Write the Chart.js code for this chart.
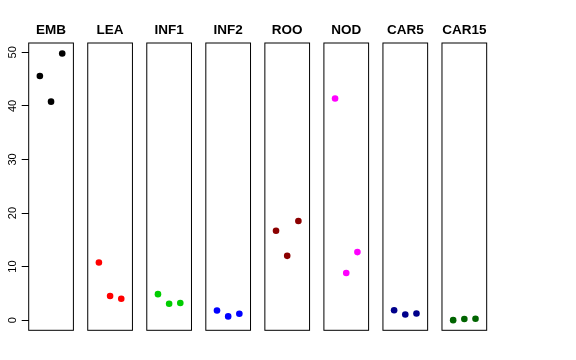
<!DOCTYPE html>
<html>
<head>
<meta charset="utf-8">
<script src="https://cdn.jsdelivr.net/npm/chart.js@4.4.1/dist/chart.umd.min.js"></script>
<style>
  body { margin: 0; background: #ffffff; }
  #wrap { position: relative; width: 576px; height: 360px; }
  #wrap canvas { position: absolute; left: 0; top: 0; }
</style>
</head>
<body>
<div id="wrap"></div>
<script>
const panelNames = ['EMB', 'LEA', 'INF1', 'INF2', 'ROO', 'NOD', 'CAR5', 'CAR15'];
const xPositions = [1, 2, 3];
const embValues = [45.6, 40.8, 49.8];
const leaValues = [10.75, 4.5, 4.0];
const inf1Values = [4.85, 3.05, 3.2];
const inf2Values = [1.8, 0.7, 1.2];
const rooValues = [16.7, 12.0, 18.5];
const nodValues = [41.4, 8.8, 12.7];
const car5Values = [1.85, 1.05, 1.25];
const car15Values = [0.0, 0.2, 0.25];
const yTicks = [0, 10, 20, 30, 40, 50];
const panelColors = ['#000000', '#ff0000', '#00cd00', '#0000ff', '#8b0000', '#ff00ff', '#00008b', '#006400'];

const allValues = [embValues, leaValues, inf1Values, inf2Values, rooValues, nodValues, car5Values, car15Values];

const W = 576, H = 360;
const firstLeft = 28.7;
const pitch = 59.04;
const boxW = 44.7;
const boxTop = 43;
const boxBottom = 330.3;

// frame + bold title for each panel, R style
const boxPlugin = {
    id: 'panelBox',
    afterDraw(chart, args, opts) {
        const a = chart.chartArea;
        const ctx = chart.ctx;
        ctx.save();
        ctx.strokeStyle = '#000000';
        ctx.lineWidth = 1;
        ctx.strokeRect(a.left, a.top, a.right - a.left, a.bottom - a.top);
        ctx.fillStyle = '#000000';
        ctx.font = 'bold 13.5px "Liberation Sans", Arial, sans-serif';
        ctx.textAlign = 'center';
        ctx.textBaseline = 'alphabetic';
        ctx.fillText(opts.title, (a.left + a.right) / 2, 34.2);
        ctx.restore();
    }
};

const wrap = document.getElementById('wrap');

panelNames.forEach((name, i) => {
    const canvas = document.createElement('canvas');
    canvas.width = W;
    canvas.height = H;
    canvas.style.width = W + 'px';
    canvas.style.height = H + 'px';
    wrap.appendChild(canvas);

    const boxLeft = firstLeft + i * pitch;
    const first = i === 0;

    new Chart(canvas, {
        type: 'scatter',
        data: {
            datasets: [{
                data: xPositions.map((x, j) => ({ x: x, y: allValues[i][j] })),
                backgroundColor: panelColors[i],
                borderWidth: 0,
                pointRadius: 3.3,
                pointHoverRadius: 3.3
            }]
        },
        options: {
            responsive: false,
            animation: false,
            events: [],
            layout: {
                padding: {
                    left: first ? 0 : boxLeft,
                    right: W - boxLeft - boxW,
                    top: boxTop,
                    bottom: H - boxBottom
                }
            },
            plugins: {
                legend: { display: false },
                tooltip: { enabled: false },
                title: { display: false },
                panelBox: { title: name }
            },
            scales: {
                x: {
                    type: 'linear',
                    min: 0,
                    max: 4,
                    display: false
                },
                y: {
                    type: 'linear',
                    min: -1.9,
                    max: 51.75,
                    display: first,
                    position: 'left',
                    afterBuildTicks: s => { s.ticks = yTicks.map(v => ({ value: v })); },
                    afterFit: s => { if (first) s.width = firstLeft; },
                    border: { display: false },
                    grid: {
                        drawOnChartArea: false,
                        drawTicks: true,
                        tickLength: 7,
                        color: '#000000',
                        lineWidth: 1
                    },
                    ticks: {
                        minRotation: 90,
                        maxRotation: 90,
                        crossAlign: 'center',
                        padding: 3,
                        color: '#000000',
                        font: { family: 'Liberation Sans, Arial, sans-serif', size: 11 }
                    }
                }
            }
        },
        plugins: [boxPlugin]
    });
});
</script>
</body>
</html>
